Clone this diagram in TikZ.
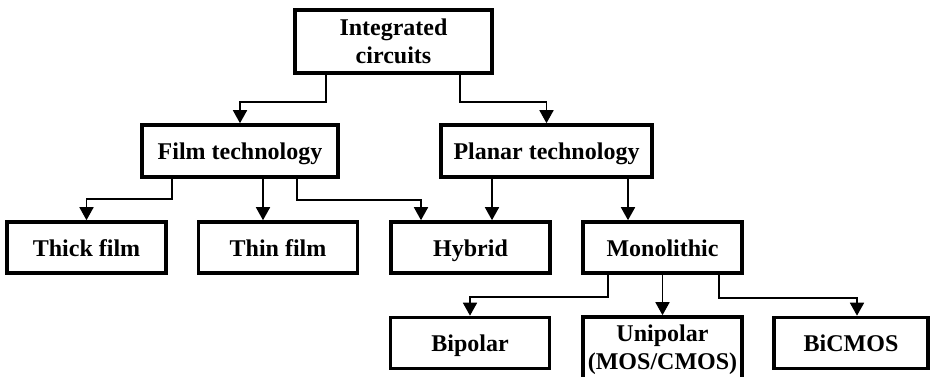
\documentclass[tikz,border=0pt]{standalone}
\usepackage{fontspec}
\setmainfont{Liberation Serif}
\usepackage{tikz}
\usetikzlibrary{arrows.meta}
\usetikzlibrary{calc}

\begin{document}
\begin{tikzpicture}[
    x=1pt, y=-1pt,
    %% ── Node styles ─────────────────────────────────────────────
    topbox/.style ={draw=black, line width=3.6pt, rectangle,
                                 minimum width=197pt, minimum height=63pt, inner sep=0pt,
                                 align=center, font=\fontsize{24}{28}\selectfont\bfseries},
    techbox/.style={draw=black, line width=3.6pt, rectangle,
                                 minimum height=52pt, inner sep=0pt, text height=18pt, text depth=1pt,
                                 align=center, font=\fontsize{24}{28}\selectfont\bfseries},
    leafbox/.style={draw=black, line width=3.6pt, rectangle,
                                 minimum width=159pt, minimum height=51pt, inner sep=0pt,
                                 text height=18pt, text depth=1pt,
                                 align=center, font=\fontsize{24}{28}\selectfont\bfseries},
    arr/.style    ={-{Triangle[length=13pt, width=14pt]}, line width=1.7pt, color=black}
]

    %% ── Frame ──────────────────────────────────────────────────
    \useasboundingbox (0,0) rectangle (930,377);
    \clip (0,0) rectangle (930,377);

    %% ── Nodes ──────────────────────────────────────────────────
    \node[topbox]  (ic)       at (393.5, 41.5) {Integrated\\circuits};

    \node[techbox, minimum width=196pt] (film)   at (240,   151) {Film technology};
    \node[techbox, minimum width=211pt] (planar) at (546.5, 151) {Planar technology};

    \node[leafbox] (thick)    at (86.5,  247.5) {Thick film};
    \node[leafbox] (thin)     at (278,   247.5) {Thin film};
    \node[leafbox] (hybrid)   at (470.5, 247.5) {Hybrid};
    \node[leafbox] (mono)     at (662.5, 247.5) {Monolithic};

    \node[leafbox] (bipolar)  at (470,   343  ) {Bipolar};
    \node[leafbox, minimum height=66pt, text height=, text depth=] (unipolar) at (662.5, 350) {Unipolar\\(MOS/CMOS)};
    \node[leafbox, minimum width=154pt] (bicmos)   at (851,   343) {BiCMOS};

    %% ── Arrows ──────────────────────────────────────────────────
    \draw[arr] ([xshift=-67.5pt]ic.south) -- ++(0,27) -| (film.north);
    \draw[arr] ([xshift=66.5pt]ic.south)  -- ++(0,27) -| (planar.north);

    \draw[arr] ([xshift=-68pt]film.south) -- ++(0,20) -| (thick.north);
    \draw[arr] ([xshift=23pt]film.south)  -- ([xshift=-15pt]thin.north);
    \draw[arr] ([xshift=57pt]film.south)  -- ++(0,21) -| ([xshift=-49.5pt]hybrid.north);

    \draw[arr] ([xshift=-54.5pt]planar.south) -- ([xshift=21.5pt]hybrid.north);
    \draw[arr] ([xshift=81.5pt]planar.south)  -- ([xshift=-34.5pt]mono.north);

    \draw[arr] ([xshift=-54.5pt]mono.south) -- ++(0,22) -| (bipolar.north);
    \draw[arr] (mono.south) -- (unipolar.north);
    \draw[arr] ([xshift=56.5pt]mono.south)  -- ++(0,23) -| ([xshift=6pt]bicmos.north);

\end{tikzpicture}
\end{document}
